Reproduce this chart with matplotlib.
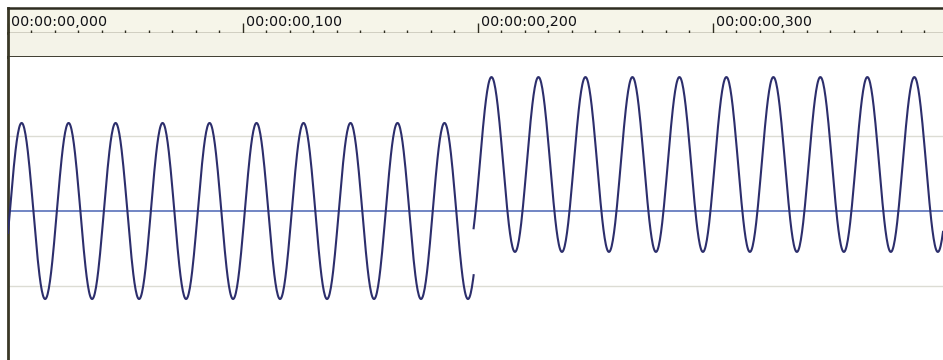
import numpy as np
import matplotlib.pyplot as plt
from matplotlib.ticker import MultipleLocator

# values (time in seconds, level as fraction of full scale)
tick_times = [0.0, 0.1, 0.2, 0.3]
tick_labels = ["00:00:00,000", "00:00:00,100", "00:00:00,200", "00:00:00,300"]
grid_levels = [0.5, -0.5]

freq = 50.0          # Hz
phase_delay = 0.0008  # s
seg_start = [0.0, 0.1982]
seg_end = [0.1982, 0.398]
seg_amp = [0.587, 0.583]
seg_offset = [0.0, 0.31]

t_max = 0.398
W, H = 943, 360

fig = plt.figure(figsize=(W / 100, H / 100), dpi=100)
fig.patch.set_facecolor("white")


def px_axes(x0, y0, x1, y1):
    # axes placed by pixel box (y measured from the top)
    return fig.add_axes([x0 / W, 1 - y1 / H, (x1 - x0) / W, (y1 - y0) / H])


# ruler with the time labels
ruler = px_axes(8, 8, W, 33)
ruler.set_facecolor("#f6f5e9")
ruler.set_xlim(0, t_max)
ruler.set_ylim(0, 1)
ruler.spines["right"].set_visible(False)
ruler.spines["left"].set_color("#3a3826")
ruler.spines["left"].set_linewidth(2.0)
ruler.spines["top"].set_color("#2e2c20")
ruler.spines["top"].set_linewidth(1.8)
ruler.spines["bottom"].set_color("#3a3826")
ruler.spines["bottom"].set_linewidth(1.0)
ruler.xaxis.set_major_locator(MultipleLocator(0.1))
ruler.xaxis.set_minor_locator(MultipleLocator(0.01))
ruler.tick_params(axis="x", which="major", direction="in", length=7, width=1.0,
                  color="#2e2c20", labelbottom=False)
ruler.tick_params(axis="x", which="minor", direction="in", length=2.2, width=1.0,
                  color="#2e2c20")
ruler.set_yticks([])
for tt, lab in zip(tick_times, tick_labels):
    ruler.text(tt + 0.0013, 0.26, lab, fontsize=10.3, color="#111116",
               va="baseline", ha="left", fontweight="medium")

# empty strip below the ruler
strip = px_axes(8, 33, W, 57)
strip.set_facecolor("#f4f3e8")
strip.set_xlim(0, t_max)
strip.set_xticks([])
strip.set_yticks([])
for s in ["right", "top"]:
    strip.spines[s].set_visible(False)
strip.spines["left"].set_color("#3a3826")
strip.spines["left"].set_linewidth(2.0)
strip.spines["bottom"].set_color("#2e2c20")
strip.spines["bottom"].set_linewidth(2.0)

# waveform area
ax = px_axes(8, 57, W, H)
ax.set_xlim(0, t_max)
ax.set_ylim((211 - H) / 150, (211 - 57) / 150)
ax.set_xticks([])
ax.set_yticks([])
for s in ["right", "top", "bottom"]:
    ax.spines[s].set_visible(False)
ax.spines["left"].set_color("#3a3826")
ax.spines["left"].set_linewidth(2.0)

for g in grid_levels:
    ax.axhline(g, color="#dcdcd4", lw=1.0, zorder=1)
ax.axhline(0, color="#4a64b4", lw=1.1, zorder=2)

for a, b, amp, off in zip(seg_start, seg_end, seg_amp, seg_offset):
    t = np.linspace(a, b, 800)
    y = off + amp * np.sin(2 * np.pi * freq * (t - phase_delay))
    ax.plot(t, y, color="#2c2e6c", lw=1.5, zorder=3)

plt.savefig("out.png", dpi=100)
